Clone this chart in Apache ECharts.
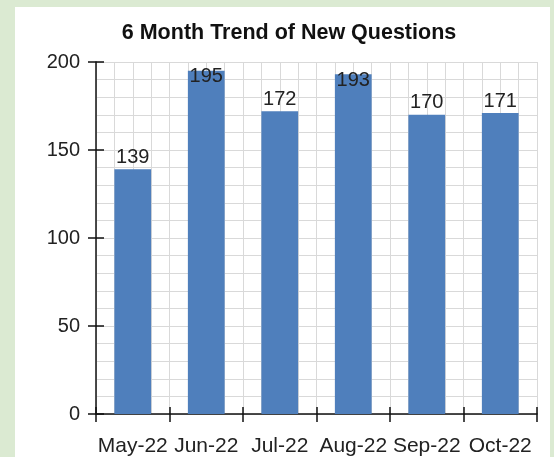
<!DOCTYPE html>
<html>
<head>
<meta charset="utf-8">
<script src="https://cdn.jsdelivr.net/npm/echarts@6/dist/echarts.min.js"></script>
<style>
  body { margin: 0; background: #dbead2; }
  #card { position: absolute; left: 15px; top: 7px; width: 535px; height: 450px; background: #fff; }
  #main { position: absolute; left: 0; top: 0; width: 554px; height: 457px; }
</style>
</head>
<body>
<div id="card"></div>
<div id="main"></div>
<script>
var months = ['May-22', 'Jun-22', 'Jul-22', 'Aug-22', 'Sep-22', 'Oct-22'];
var questions = [139, 195, 172, 193, 170, 171];
var yTicks = [0, 50, 100, 150, 200];

var chart = echarts.init(document.getElementById('main'));
var font = 'Liberation Sans, Arial, sans-serif';
var gridColor = '#d9d9d9';

// bars that reach the top get their label pushed inside
var barData = questions.map(function (v) {
    if (v > 185) {
        return { value: v, label: { position: 'insideTop', distance: -4 } };
    }
    return v;
});

chart.setOption({
    animation: false,
    title: {
        text: '6 Month Trend of New Questions',
        left: 284,
        textAlign: 'center',
        top: 17,
        textStyle: { fontFamily: font, fontSize: 21.5, fontWeight: 'bold', color: '#111' }
    },
    grid: { left: 96, right: 17, top: 62, bottom: 42 },
    xAxis: [{
        type: 'category',
        data: months,
        axisLine: { show: true, lineStyle: { color: '#111', width: 1.5 } },
        axisTick: { show: true, interval: 0, length: 8, lineStyle: { color: '#111', width: 1.5 } },
        axisLabel: { interval: 0, fontFamily: font, fontSize: 21, color: '#222', margin: 22 },
        splitLine: { show: false }
    }, {
        // inner half of the crossing ticks
        type: 'category',
        data: months,
        position: 'bottom',
        axisLine: { show: false },
        axisTick: { show: true, interval: 0, inside: true, length: 7, lineStyle: { color: '#111', width: 1.5 } },
        axisLabel: { show: false }
    }, {
        // quarter-category vertical gridlines
        type: 'value',
        min: 0, max: 24, interval: 1,
        position: 'top',
        axisLine: { show: false }, axisTick: { show: false }, axisLabel: { show: false },
        splitLine: { show: true, lineStyle: { color: gridColor, width: 1 } }
    }],
    yAxis: [{
        type: 'value',
        min: yTicks[0],
        max: yTicks[yTicks.length - 1],
        interval: 50,
        axisLine: { show: true, lineStyle: { color: '#111', width: 1.5 } },
        axisTick: { show: true, length: 8, lineStyle: { color: '#111', width: 1.5 } },
        axisLabel: { fontFamily: font, fontSize: 20, color: '#222', margin: 16 },
        splitLine: { show: true, lineStyle: { color: gridColor, width: 1 } },
        minorTick: { show: false, splitNumber: 5 },
        minorSplitLine: { show: true, lineStyle: { color: gridColor, width: 1 } }
    }, {
        type: 'value',
        min: yTicks[0],
        max: yTicks[yTicks.length - 1],
        interval: 50,
        position: 'left',
        axisLine: { show: false },
        axisTick: { show: true, inside: true, length: 8, lineStyle: { color: '#111', width: 1.5 } },
        axisLabel: { show: false },
        splitLine: { show: false }
    }],
    series: [{
        name: 'New Questions',
        type: 'bar',
        xAxisIndex: 0,
        yAxisIndex: 0,
        barWidth: '50%',
        data: barData,
        itemStyle: { color: '#4f7fbc' },
        label: {
            show: true,
            position: 'top',
            distance: 2,
            fontFamily: font,
            fontSize: 20,
            color: '#222'
        }
    }]
});
</script>
</body>
</html>
